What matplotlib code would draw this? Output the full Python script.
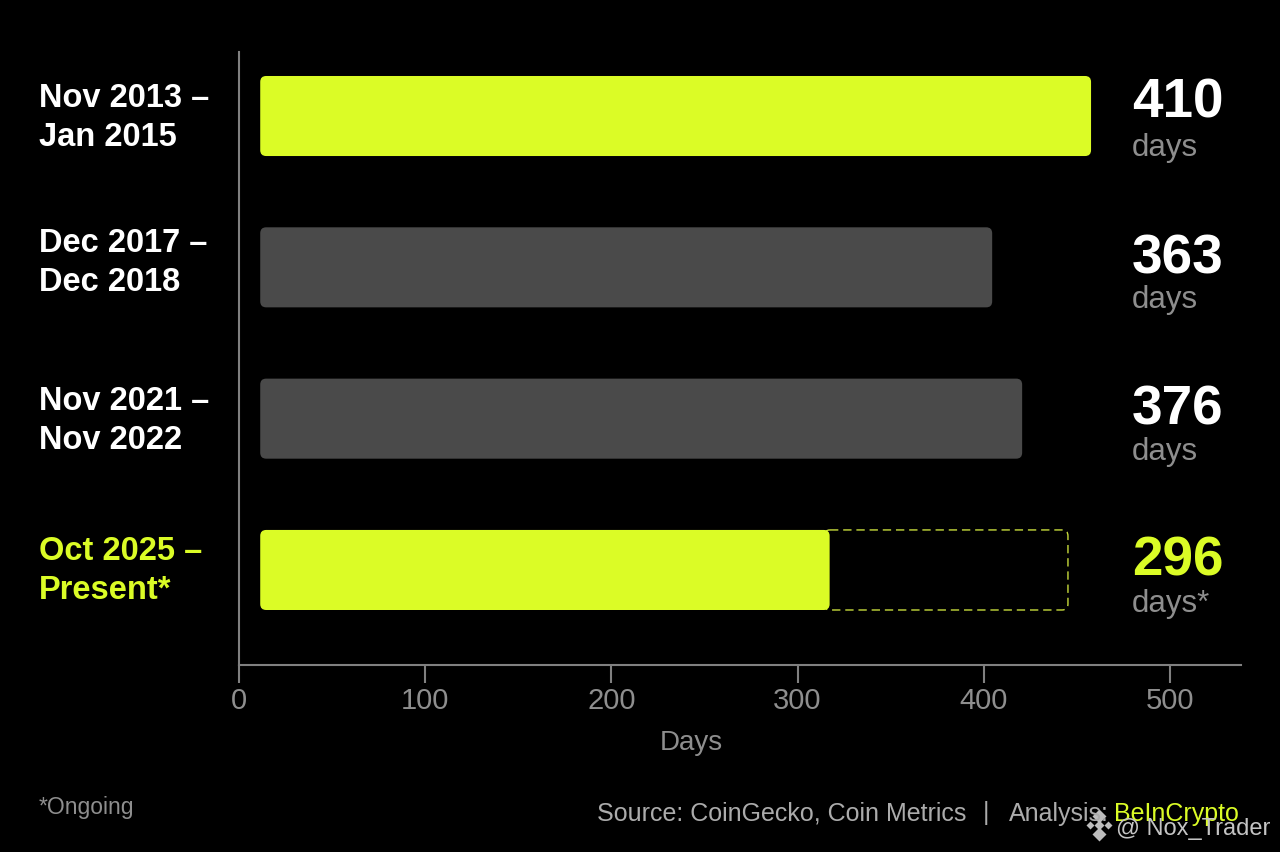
import matplotlib
matplotlib.use("Agg")
import matplotlib.pyplot as plt
from matplotlib.lines import Line2D
from matplotlib.patches import FancyBboxPatch

periods = ["Nov 2013 –\nJan 2015", "Dec 2017 –\nDec 2018", "Nov 2021 –\nNov 2022", "Oct 2025 –\nPresent*"]
days = [410, 363, 376, 296]
day_labels = ["days", "days", "days", "days*"]
# bars in the picture do not start at zero, so ends are read off the axis
bar_start = 11.4
bar_end = [457.6, 404.5, 420.6, 317.2]
projected_end = 445.2
bar_lime = [True, False, False, True]
text_lime = [False, False, False, True]
x_ticks = [0, 100, 200, 300, 400, 500]

LIME = "#DBFC26"
GREY_BAR = "#4A4A4A"
GREY_TEXT = "#8E8E8E"
AXIS = "#808080"

W, H = 1280, 853
plt.rcParams["font.family"] = ["Liberation Sans", "DejaVu Sans"]


def fx(px):
    return px / W


def fy(py):
    return 1 - py / H


fig = plt.figure(figsize=(W / 100, H / 100), dpi=100, facecolor="black")
ax = fig.add_axes([fx(239), fy(666), (1241 - 239) / W, (666 - 53) / H], facecolor="black")
ax.set_xlim(0, 1002 / 1.862)
ax.set_ylim(3.628, -0.423)

aspect = (1 / 151.3) / (1 / 1.862)
bar_h = 0.529

for i, end in enumerate(bar_end):
    color = LIME if bar_lime[i] else GREY_BAR
    if i == 3:
        # outline starts under the filled part so only the remainder shows
        outline = FancyBboxPatch((end - 3, i - bar_h / 2), projected_end - end + 3, bar_h,
                                 boxstyle="round,pad=0,rounding_size=3.2", mutation_aspect=aspect,
                                 fc="none", ec="#C8DC3C", lw=1, ls=(0, (6, 3.5)))
        ax.add_patch(outline)
    bar = FancyBboxPatch((bar_start, i - bar_h / 2), end - bar_start, bar_h,
                         boxstyle="round,pad=0,rounding_size=3.2", mutation_aspect=aspect,
                         fc=color, ec="none")
    ax.add_patch(bar)

for side in ["top", "right"]:
    ax.spines[side].set_visible(False)
for side in ["left", "bottom"]:
    ax.spines[side].set_color(AXIS)
    ax.spines[side].set_linewidth(1.5)

ax.set_xticks(x_ticks)
ax.set_yticks([])
ax.tick_params(axis="x", colors=AXIS, length=13, width=1.5, pad=2, labelsize=21, labelcolor=GREY_TEXT)
ax.set_xlabel("Days", fontsize=20, color=GREY_TEXT)
ax.xaxis.set_label_coords((691 - 239) / 1002, -(730 - 666) / 613)

label_y = [118, 263, 421, 571]
value_y = [104, 259, 411, 562]
unit_y = [148, 300, 452, 604]
for i in range(len(days)):
    color = LIME if text_lime[i] else "white"
    fig.text(fx(39), fy(label_y[i]), periods[i], color=color, fontsize=23.5, fontweight="bold",
             va="center", ha="left", linespacing=1.32)
    fig.text(fx(1132), fy(value_y[i]), str(days[i]), color=color, fontsize=39.5, fontweight="bold",
             va="center", ha="left")
    fig.text(fx(1132), fy(unit_y[i]), day_labels[i], color=GREY_TEXT, fontsize=22.5,
             va="center", ha="left")

fig.text(fx(39), fy(808), "*Ongoing", color=GREY_TEXT, fontsize=16.5, va="center", ha="left")

# footer
fig.text(fx(597), fy(814), "Source: CoinGecko, Coin Metrics", color="#ABABAB", fontsize=18, va="center", ha="left")
fig.text(fx(986), fy(813), "|", color="#ABABAB", fontsize=18, va="center", ha="center")
fig.text(fx(1009), fy(814), "Analysis:", color="#ABABAB", fontsize=18, va="center", ha="left")
fig.text(fx(1114), fy(814), "BeInCrypto", color=LIME, fontsize=18, va="center", ha="left")

# watermark
fig.text(fx(1116), fy(829), "@ Nox_Trader", color="#C4C4C4", fontsize=17, va="center", ha="left")
logo_x = [1099, 1090, 1108, 1099, 1099]
logo_y = [817, 826, 826, 835, 826]
logo_s = [7, 4, 4, 7, 5]
for lx, ly, ls in zip(logo_x, logo_y, logo_s):
    fig.add_artist(Line2D([fx(lx)], [fy(ly)], marker="D", ms=ls, mfc="#BDBDBD", mec="none", ls="none"))

fig.savefig("out.png", dpi=100, facecolor="black")
